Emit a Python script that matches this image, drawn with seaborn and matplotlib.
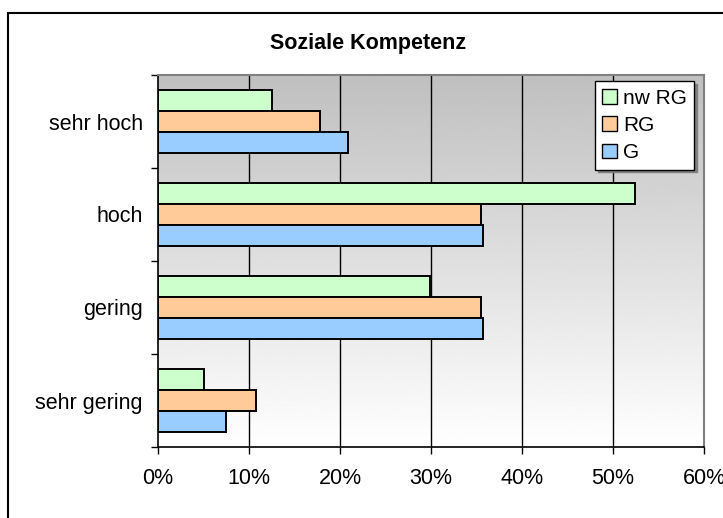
import numpy as np
import pandas as pd
import matplotlib
matplotlib.use("Agg")
import matplotlib.pyplot as plt
from matplotlib.patches import Rectangle
from matplotlib.ticker import PercentFormatter
import seaborn as sns

sns.set_theme(style="white")
plt.rcParams['font.family'] = ['Liberation Sans', 'DejaVu Sans']
plt.rcParams['text.color'] = 'black'
plt.rcParams['xtick.color'] = 'black'
plt.rcParams['ytick.color'] = 'black'

kategorien = ['sehr hoch', 'hoch', 'gering', 'sehr gering']
gruppen = ['nw RG', 'RG', 'G']
nw_rg = [12.5, 52.4, 29.9, 5.1]
rg = [17.8, 35.5, 35.5, 10.8]
g = [20.9, 35.7, 35.7, 7.5]
farben = ['#CCFFCC', '#FFCC99', '#99CCFF']

df = pd.DataFrame({
    'Kategorie': kategorien * 3,
    'Gruppe': [gr for gr in gruppen for _ in kategorien],
    'Anteil': nw_rg + rg + g,
})

fig = plt.figure(figsize=(7.23, 5.18), dpi=100)
ax = fig.add_axes([158 / 723, 1 - 447 / 518, (704 - 158) / 723, (447 - 75) / 518])

# Verlauf im Hintergrund (grau oben, weiss unten)
verlauf = np.linspace(0.75, 1.0, 256).reshape(-1, 1)
ax.imshow(verlauf, cmap='gray', vmin=0, vmax=1, aspect='auto',
          extent=[0, 1, 0, 1], transform=ax.transAxes, zorder=0)

sns.barplot(data=df, y='Kategorie', x='Anteil', hue='Gruppe', order=kategorien,
            hue_order=gruppen, palette=farben, orient='h', width=0.667,
            edgecolor='black', linewidth=1.4, saturation=1, ax=ax, zorder=3)

ax.set_xlim(0, 60)
ax.set_ylim(3.5, -0.5)
ax.set_xticks(np.arange(0, 61, 10))
ax.xaxis.set_major_formatter(PercentFormatter(decimals=0))
for xv in range(10, 60, 10):
    ax.axvline(xv, color='black', lw=1, zorder=1)

ax.set_yticks(range(4))
ax.set_yticklabels(kategorien)
ax.set_yticks(np.arange(-0.5, 4, 1), minor=True)
ax.tick_params(axis='y', which='major', length=0, pad=11, labelsize=15.5)
ax.tick_params(axis='y', which='minor', left=True, length=5, width=1, color='black', direction='out')
ax.tick_params(axis='x', bottom=True, length=5, width=1, color='black', direction='out', pad=10, labelsize=15.5)
ax.set_xlabel('')
ax.set_ylabel('')

for s in ['left', 'bottom']:
    ax.spines[s].set_color('black')
    ax.spines[s].set_linewidth(1.2)
for s in ['top', 'right']:
    ax.spines[s].set_color('#808080')
    ax.spines[s].set_linewidth(1.5)

fig.text(368 / 723, 1 - 44 / 518, 'Soziale Kompetenz', fontsize=15.5, fontweight='bold',
         ha='center', va='center')

leg = ax.legend(loc='upper right', bbox_to_anchor=(0.982, 0.983), frameon=True, fancybox=False,
                shadow={'color': '#808080', 'alpha': 1}, fontsize=15, handlelength=0.7,
                handleheight=0.7, handletextpad=0.3, labelspacing=0.4, borderpad=0.35,
                borderaxespad=0)
leg.get_frame().set_edgecolor('black')
leg.get_frame().set_linewidth(1)
leg.get_frame().set_facecolor('white')
for h in leg.legend_handles:
    h.set_edgecolor('black')
    h.set_linewidth(1)

# Rahmen um das Diagramm
fig.patches.append(Rectangle((8 / 723, -0.1), 1.2, 1.1 - 13 / 518, transform=fig.transFigure,
                             fill=False, edgecolor='black', lw=1.5))

fig.savefig('out.png', dpi=100)
